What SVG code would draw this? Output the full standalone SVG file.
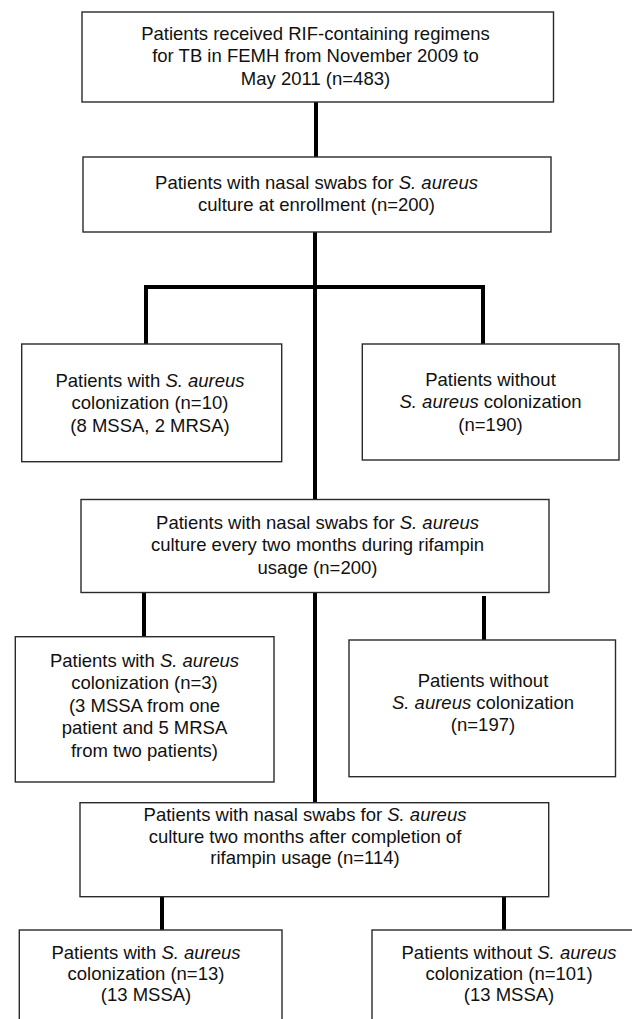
<svg xmlns="http://www.w3.org/2000/svg" width="632" height="1019" viewBox="0 0 632 1019">
<style>
.box{fill:#fff;stroke:#2a2a2a;stroke-width:1.4}
.t{font-family:"Liberation Sans",Arial,sans-serif;font-size:18.5px;fill:#111;text-anchor:middle}
.i{font-style:italic}
.c{stroke:#000;stroke-width:4;fill:none}
</style>
<rect width="632" height="1019" fill="#fff"/>
<g id="connectors">
<line class="c" x1="316" y1="102" x2="316" y2="157"/>
<line class="c" x1="315" y1="232" x2="315" y2="287"/>
<polyline class="c" points="146,344 146,287 483,287 483,344"/>
<line class="c" x1="315" y1="287" x2="315" y2="500"/>
<line class="c" x1="144" y1="593" x2="144" y2="637"/>
<line class="c" x1="484" y1="596" x2="484" y2="640"/>
<line class="c" x1="315" y1="592" x2="315" y2="803"/>
<line class="c" x1="162" y1="897" x2="162" y2="930"/>
<line class="c" x1="504" y1="897" x2="504" y2="930"/>
</g>
<g id="n1">
<rect class="box" x="82" y="12" width="471.5" height="90"/>
<text class="t" x="315.5" y="40">Patients received RIF-containing regimens</text>
<text class="t" x="315.5" y="62.3">for TB in FEMH from November 2009 to</text>
<text class="t" x="315.5" y="84.6">May 2011 (n=483)</text>
</g>
<g id="n2">
<rect class="box" x="83" y="157" width="468" height="75"/>
<text class="t" x="316.5" y="189.3">Patients with nasal swabs for <tspan class="i">S. aureus</tspan></text>
<text class="t" x="316.5" y="210.8">culture at enrollment (n=200)</text>
</g>
<g id="n3">
<rect class="box" x="21.7" y="344" width="260" height="117.7"/>
<text class="t" x="150" y="387">Patients with <tspan class="i">S. aureus</tspan></text>
<text class="t" x="150" y="409.3">colonization (n=10)</text>
<text class="t" x="150" y="431.6">(8 MSSA, 2 MRSA)</text>
</g>
<g id="n4">
<rect class="box" x="362.3" y="344" width="256.7" height="116"/>
<text class="t" x="490.5" y="385.5">Patients without</text>
<text class="t" x="490.5" y="408"><tspan class="i">S. aureus</tspan> colonization</text>
<text class="t" x="490.5" y="430.5">(n=190)</text>
</g>
<g id="n5">
<rect class="box" x="81" y="499.5" width="468" height="93"/>
<text class="t" x="317.5" y="528.5">Patients with nasal swabs for <tspan class="i">S. aureus</tspan></text>
<text class="t" x="317.5" y="551">culture every two months during rifampin</text>
<text class="t" x="317.5" y="573.5">usage (n=200)</text>
</g>
<g id="n6">
<rect class="box" x="15.3" y="636.7" width="258.7" height="145.3"/>
<text class="t" x="144.5" y="667">Patients with <tspan class="i">S. aureus</tspan></text>
<text class="t" x="144.5" y="689.4">colonization (n=3)</text>
<text class="t" x="144.5" y="711.8">(3 MSSA from one</text>
<text class="t" x="144.5" y="734.2">patient and 5 MRSA</text>
<text class="t" x="144.5" y="756.6">from two patients)</text>
</g>
<g id="n7">
<rect class="box" x="349" y="640" width="266.5" height="136.7"/>
<text class="t" x="483" y="686.5">Patients without</text>
<text class="t" x="483" y="708.5"><tspan class="i">S. aureus</tspan> colonization</text>
<text class="t" x="483" y="730.5">(n=197)</text>
</g>
<g id="n8">
<rect class="box" x="80" y="802.7" width="468.7" height="94"/>
<text class="t" x="305" y="821">Patients with nasal swabs for <tspan class="i">S. aureus</tspan></text>
<text class="t" x="305" y="842.5">culture two months after completion of</text>
<text class="t" x="305" y="864">rifampin usage (n=114)</text>
</g>
<g id="n9">
<rect class="box" x="19.3" y="930" width="262.7" height="110"/>
<text class="t" x="146" y="959">Patients with <tspan class="i">S. aureus</tspan></text>
<text class="t" x="146" y="980">colonization (n=13)</text>
<text class="t" x="146" y="1001">(13 MSSA)</text>
</g>
<g id="n10">
<rect class="box" x="372" y="930" width="274" height="110"/>
<text class="t" x="509" y="959">Patients without <tspan class="i">S. aureus</tspan></text>
<text class="t" x="509" y="980">colonization (n=101)</text>
<text class="t" x="509" y="1001">(13 MSSA)</text>
</g>
</svg>
